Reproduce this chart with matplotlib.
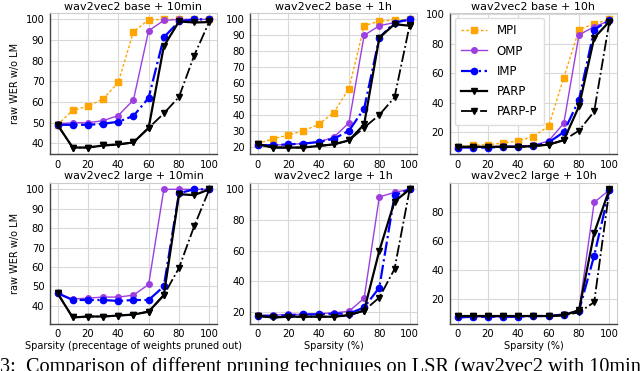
import numpy as np
import matplotlib.pyplot as plt
from matplotlib.ticker import MultipleLocator

sparsity = [0, 10, 20, 30, 40, 50, 60, 70, 80, 90, 100]

titles = ['wav2vec2 base + 10min', 'wav2vec2 base + 1h', 'wav2vec2 base + 10h',
          'wav2vec2 large + 10min', 'wav2vec2 large + 1h', 'wav2vec2 large + 10h']
ytick_steps = [10, 10, 20, 10, 20, 20]

# base models
mpi_base_10min = [49, 56, 58, 61.5, 69.5, 94, 99.8, 100, 100, 100, 100]
omp_base_10min = [49.5, 50, 50, 51, 53.5, 61, 94.5, 99.5, 100, 100, 100]
imp_base_10min = [49, 49, 49, 49.5, 50.5, 53.3, 62, 91.3, 99, 100, 100]
parp_base_10min = [49, 38, 38, 39, 39.5, 40.5, 47.5, 87, 99, 98.5, 98.7]
parpp_base_10min = [49, 38, 38, 39, 39.5, 40.5, 47.5, 54.5, 62.5, 82.5, 99]

mpi_base_1h = [22, 25, 27.3, 30, 34, 41.5, 56.5, 96, 99, 99.5, 100]
omp_base_1h = [21, 21, 21.5, 22, 23, 26, 35, 90, 96, 98, 99.5]
imp_base_1h = [21, 21, 21.5, 22, 23, 25, 30, 44, 88.5, 98, 100]
parp_base_1h = [21.5, 19.5, 19.5, 19.5, 20.5, 21.5, 24, 34, 88.5, 97, 96]
parpp_base_1h = [22, 19.5, 19.5, 19.5, 20.5, 21.5, 24, 32, 40, 51, 96.5]

mpi_base_10h = [10, 11, 11.5, 12.5, 14, 17, 24, 57, 89.5, 93.5, 96.5]
omp_base_10h = [9.5, 10, 10, 10.5, 10.5, 11, 14, 26, 86, 91.5, 95.5]
imp_base_10h = [9.5, 9.5, 9.5, 10, 10, 10.5, 13, 20, 42, 89.5, 96]
parp_base_10h = [10, 10, 10, 10, 10, 10.5, 11.5, 14.5, 37.5, 84, 95]
parpp_base_10h = [10, 10, 10, 10, 10, 10.5, 11.5, 14.5, 21, 34, 95]

# large models (no MPI curve)
omp_large_10min = [46.5, 43.5, 44, 44.5, 44.5, 45.5, 51, 100, 100, 100, 100]
imp_large_10min = [46.5, 43, 43, 43, 42.5, 43, 43, 50, 98, 100, 100]
parp_large_10min = [46.5, 34, 34.5, 34.5, 35, 35.5, 37, 45.5, 97.5, 97, 100]
parpp_large_10min = [46.5, 34, 34.5, 34.5, 35, 35.5, 37, 45.5, 59.5, 81, 100]

omp_large_1h = [18, 18, 18.5, 18.5, 19, 19.5, 20.5, 29, 95, 98, 100]
imp_large_1h = [17.5, 17.5, 18, 18.5, 18.5, 19, 19, 23, 36, 96, 100]
parp_large_1h = [17.5, 16.5, 17, 17, 17, 17, 18, 21, 60, 92, 100]
parpp_large_1h = [17.5, 16.5, 17, 17, 17, 17, 18, 21, 29.5, 48, 100]

omp_large_10h = [7.5, 8, 8, 8, 8, 8.5, 8.5, 10, 12, 86.5, 95]
imp_large_10h = [7.5, 8, 8, 8, 8, 8.5, 8.5, 9.5, 12, 50, 95]
parp_large_10h = [8.5, 8.5, 8.5, 8.5, 8.5, 8.5, 8.5, 9, 12.5, 65.5, 95.5]
parpp_large_10h = [8.5, 8.5, 8.5, 8.5, 8.5, 8.5, 8.5, 9, 11, 18, 95]

panels = [
    (mpi_base_10min, omp_base_10min, imp_base_10min, parp_base_10min, parpp_base_10min),
    (mpi_base_1h, omp_base_1h, imp_base_1h, parp_base_1h, parpp_base_1h),
    (mpi_base_10h, omp_base_10h, imp_base_10h, parp_base_10h, parpp_base_10h),
    (None, omp_large_10min, imp_large_10min, parp_large_10min, parpp_large_10min),
    (None, omp_large_1h, imp_large_1h, parp_large_1h, parpp_large_1h),
    (None, omp_large_10h, imp_large_10h, parp_large_10h, parpp_large_10h),
]

styles = [
    dict(label='MPI', color='#FFA500', ls='--', lw=1.0, marker='s', ms=4.5, dashes=(2, 1.5)),
    dict(label='OMP', color='#9D3FE0', ls='-', lw=1.0, marker='o', ms=4),
    dict(label='IMP', color='#0000FF', ls='-.', lw=1.6, marker='o', ms=4.5),
    dict(label='PARP', color='black', ls='-', lw=1.6, marker='v', ms=5),
    dict(label='PARP-P', color='black', ls='-.', lw=1.3, marker='v', ms=5),
]

fig = plt.figure(figsize=(6.4, 3.71), dpi=100)
lefts = [0.078, 0.391, 0.703]
bottoms = [0.585, 0.127]
w, h = 0.261, 0.38

for i, series in enumerate(panels):
    ax = fig.add_axes([lefts[i % 3], bottoms[i // 3], w, h])
    for vals, st in zip(series, styles):
        if vals is None:
            continue
        ax.plot(sparsity, vals, **st)
    ax.set_title(titles[i], fontsize=8, pad=2.5)
    ax.set_xticks([0, 20, 40, 60, 80, 100])
    ax.yaxis.set_major_locator(MultipleLocator(ytick_steps[i]))
    ax.tick_params(labelsize=7.2, length=0, pad=4)
    ax.grid(True, color='#d8d8d8', lw=0.8)
    ax.set_axisbelow(True)
    for s in ['top', 'right']:
        ax.spines[s].set_color('#cccccc')
    for s in ['left', 'bottom']:
        ax.spines[s].set_color('#444444')
        ax.spines[s].set_linewidth(1.0)
    if i == 0 or i == 3:
        ax.set_ylabel('raw WER w/o LM', fontsize=7)
    if i == 3:
        ax.set_xlabel('Sparsity (precentage of weights pruned out)', fontsize=7, labelpad=1)
    elif i > 3:
        ax.set_xlabel('Sparsity (%)', fontsize=7, labelpad=1)
    if i == 2:
        ax.legend(loc='upper left', fontsize=8.5, handlelength=2.2,
                  borderpad=0.55, labelspacing=0.62, framealpha=1,
                  edgecolor='#dddddd', borderaxespad=0.4)

fig.text(0.0, -0.004, '3:  Comparison of different pruning techniques on LSR (wav2vec2 with 10min',
         family=['Liberation Serif', 'DejaVu Serif'], fontsize=14.6,
         va='baseline', ha='left')

fig.savefig('out.png', dpi=100)
